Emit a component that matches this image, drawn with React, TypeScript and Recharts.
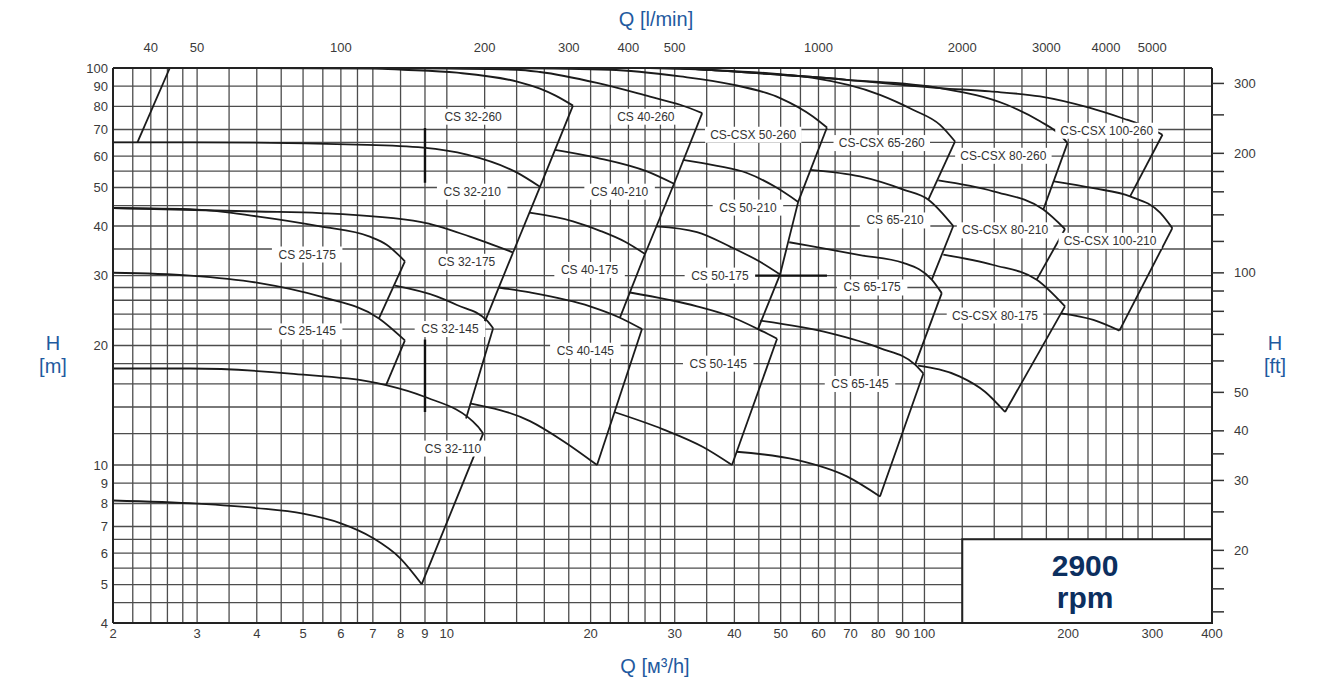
import React from "react";
import {
  ComposedChart,
  Line,
  Scatter,
  XAxis,
  YAxis,
  CartesianGrid,
  ReferenceArea,
  ReferenceLine,
  ReferenceDot,
} from "recharts";

// axis / grid values
const Q_GRID = [2, 2.2, 2.4, 2.6, 2.8, 3, 3.5, 4, 4.5, 5, 5.5, 6, 6.5, 7, 8, 9, 10, 12, 14, 16, 18, 20, 22, 24, 26, 28, 30, 35, 40, 45, 50, 55, 60, 65, 70, 80, 90, 100, 120, 140, 160, 180, 200, 220, 240, 260, 280, 300, 350, 400];
const Q_LABELS = [2, 3, 4, 5, 6, 7, 8, 9, 10, 20, 30, 40, 50, 60, 70, 80, 90, 100, 200, 300, 400];
const H_GRID = [4, 4.5, 5, 5.5, 6, 6.5, 7, 8, 9, 10, 12, 14, 16, 18, 20, 22, 24, 26, 28, 30, 35, 40, 45, 50, 55, 60, 65, 70, 80, 90, 100];
const H_LABELS = [4, 5, 6, 7, 8, 9, 10, 20, 30, 40, 50, 60, 70, 80, 90, 100];
const LMIN_TICKS = [35, 40, 50, 60, 70, 80, 90, 100, 120, 140, 160, 180, 200, 250, 300, 350, 400, 500, 600, 700, 800, 900, 1000, 1200, 1400, 1600, 1800, 2000, 2500, 3000, 3500, 4000, 5000, 6000];
const LMIN_LABELS = [40, 50, 100, 200, 300, 400, 500, 1000, 2000, 3000, 4000, 5000];
const FT_TICKS = [14, 16, 18, 20, 25, 30, 35, 40, 50, 60, 70, 80, 90, 100, 120, 140, 160, 180, 200, 250, 300];
const FT_LABELS = [20, 30, 40, 50, 100, 200, 300];
const LMIN_PER_M3H = 1000 / 60;

type P = [number, number]; // [Q m3/h, H m]

// column 25 / 32
const EDGE_32_260_L: P[] = [[2.25, 65], [2.63, 100]];
const TOP_32_260: P[] = [[2.63, 100], [7.0, 99.7], [8.1, 99.0], [10.5, 97.3], [14.03, 92.4], [15.67, 88.7], [16.85, 85.3], [18.37, 80.4]];
const EDGE_32_260_R: P[] = [[18.37, 80.4], [15.67, 50.2]];
const CURVE_32_H65: P[] = [[2.0, 65.0], [2.94, 65.0], [6.49, 64.1], [8.92, 63.0], [11.02, 60.5], [14.03, 54.5], [15.67, 50.2]];
const EDGE_32_210_R: P[] = [[15.67, 50.2], [13.76, 34.3]];
const CURVE_32_H44: P[] = [[2.0, 44.4], [4.0, 43.5], [5.43, 43.1], [8.85, 40.9], [11.18, 37.6], [13.76, 34.3]];
const CURVE_25_H44: P[] = [[2.0, 44.4], [3.0, 44.0], [4.0, 42.3], [5.43, 39.9], [6.9, 37.6], [7.48, 35.9], [8.17, 32.6]];
const EDGE_25_175_R: P[] = [[8.17, 32.6], [7.21, 23.4]];
const CURVE_25_H30: P[] = [[2.0, 30.5], [2.9, 30.0], [4.0, 28.8], [5.47, 26.5], [7.21, 23.4], [8.17, 20.6]];
const EDGE_25_145_R: P[] = [[8.17, 20.6], [7.46, 15.9]];
const CURVE_H17: P[] = [[2.0, 17.5], [2.9, 17.5], [4.7, 17.0], [7.46, 15.9], [8.92, 14.9], [11.62, 12.5], [11.91, 12.0]];
const EDGE_32_110_R: P[] = [[11.91, 12.0], [8.86, 5.01]];
const CURVE_32_H8: P[] = [[2.0, 8.14], [3.0, 7.99], [4.0, 7.79], [5.0, 7.54], [5.98, 7.14], [7.0, 6.55], [7.98, 5.83], [8.86, 5.01]];
const CURVE_32_H28: P[] = [[7.79, 28.3], [9.52, 26.6], [10.5, 25.3], [12.14, 23.1], [12.5, 22.1]];
const EDGE_32_175_R: P[] = [[13.76, 34.3], [12.02, 23.0]];
const EDGE_32_145_R: P[] = [[12.5, 22.1], [10.97, 13.1]];

// column 40
const TOP_40_260: P[] = [[7.98, 100], [14.03, 99.0], [15.67, 97.7], [20.63, 91.7], [26.63, 84.7], [30.8, 80.8], [34.25, 77.0]];
const EDGE_40_260_R: P[] = [[34.25, 77.0], [29.9, 51.1]];
const CURVE_40_H60: P[] = [[16.85, 62.2], [20.63, 59.4], [26.25, 54.9], [29.9, 51.1]];
const EDGE_40_210_R: P[] = [[29.9, 51.1], [26.0, 34.0]];
const CURVE_40_H43: P[] = [[14.9, 43.2], [18.37, 41.1], [20.93, 38.9], [23.61, 36.5], [26.0, 34.0]];
const EDGE_40_175_R: P[] = [[26.0, 34.0], [23.04, 23.5]];
const CURVE_40_H28: P[] = [[12.85, 28.0], [14.93, 27.2], [19.94, 25.1], [23.04, 23.5], [25.62, 22.0]];
const EDGE_40_145_R: P[] = [[25.62, 22.0], [20.63, 10.0]];
const CURVE_40_H14: P[] = [[11.18, 14.3], [14.93, 12.9], [17.51, 11.5], [20.63, 10.0]];

// column 50
const TOP_50_260: P[] = [[12.92, 100], [21.96, 99.0], [30.8, 95.2], [39.16, 91.1], [49.86, 84.0], [58.4, 75.5], [62.5, 70.8]];
const EDGE_50_260_R: P[] = [[62.5, 70.8], [54.4, 46.0]];
const CURVE_50_H58: P[] = [[31.2, 58.7], [36.8, 56.7], [42.5, 54.4], [48.7, 50.2], [54.4, 46.0]];
const EDGE_50_210_R: P[] = [[54.4, 46.0], [49.86, 30.2]];
const CURVE_50_H40: P[] = [[27.42, 39.9], [33.4, 38.6], [39.16, 35.5], [45.26, 32.5], [49.86, 30.2]];
const EDGE_50_175_R: P[] = [[49.86, 30.2], [44.82, 22.0]];
const CURVE_50_H27: P[] = [[24.18, 27.2], [33.4, 25.1], [39.16, 23.7], [44.82, 22.0], [49.14, 20.8]];
const EDGE_50_145_R: P[] = [[49.14, 20.8], [39.54, 10.0]];
const CURVE_50_H13: P[] = [[22.4, 13.6], [28.36, 12.3], [34.39, 11.1], [39.54, 10.0]];

// column 65
const TOP_65_260: P[] = [[26.6, 100], [35.0, 99.0], [58.4, 94.4], [80.7, 85.6], [94.6, 78.5], [107.8, 71.9], [115.9, 65.3]];
const EDGE_65_260_R: P[] = [[115.9, 65.3], [101.9, 46.6]];
const CURVE_65_H55: P[] = [[57.6, 55.4], [73.3, 53.3], [90.3, 49.4], [101.9, 46.6], [114.9, 40.0]];
const EDGE_65_210_R: P[] = [[114.9, 40.0], [103.6, 29.3]];
const CURVE_65_H36: P[] = [[52.1, 36.4], [73.3, 33.8], [90.3, 32.3], [103.6, 29.3], [108.7, 27.1]];
const EDGE_65_175_R: P[] = [[108.7, 27.1], [95.6, 17.9]];
const CURVE_65_H23: P[] = [[45.3, 23.1], [63.4, 21.5], [80.7, 19.7], [95.6, 17.9], [99.5, 17.0]];
const EDGE_65_145_R: P[] = [[99.5, 17.0], [80.7, 8.33]];
const CURVE_65_H11: P[] = [[40.4, 10.8], [54.0, 10.3], [68.8, 9.36], [80.7, 8.33]];

// column 80
const TOP_80_260: P[] = [[30.8, 99.9], [68.8, 93.4], [107.8, 89.0], [148.7, 80.8], [174.6, 73.4], [192.2, 67.9], [199.3, 64.7]];
const EDGE_80_260_R: P[] = [[199.3, 64.7], [177.4, 44.0]];
const CURVE_80_H52: P[] = [[106.9, 52.1], [139.4, 48.9], [177.4, 44.0], [196.9, 39.3]];
const EDGE_80_210_R: P[] = [[196.9, 39.3], [171.8, 29.3]];
const CURVE_80_H34: P[] = [[109.5, 33.9], [139.4, 31.9], [171.8, 29.3], [196.9, 25.1]];
const EDGE_80_175_R: P[] = [[196.9, 25.1], [147.5, 13.6]];
const CURVE_80_H18: P[] = [[97.0, 17.8], [118.7, 16.7], [133.9, 15.3], [147.5, 13.6]];

// column 100
const TOP_100_260: P[] = [[30.8, 99.9], [68.8, 93.4], [107.8, 89.0], [137.2, 87.3], [174.6, 84.8], [222.2, 79.3], [265.2, 74.1], [292, 71.2], [315, 67.9]];
const EDGE_100_260_R: P[] = [[315, 67.9], [269.5, 47.5]];
const CURVE_100_H52: P[] = [[186.7, 51.8], [225.8, 49.8], [269.5, 47.5], [311.4, 43.2], [330.4, 39.5]];
const EDGE_100_210_R: P[] = [[330.4, 39.5], [256, 21.8]];
const CURVE_100_H24: P[] = [[193.1, 24.1], [225.8, 23.2], [256, 21.8]];

const CURVES: P[][] = [
  EDGE_32_260_L, TOP_32_260, EDGE_32_260_R, CURVE_32_H65, EDGE_32_210_R, CURVE_32_H44, CURVE_25_H44,
  EDGE_25_175_R, CURVE_25_H30, EDGE_25_145_R, CURVE_H17, EDGE_32_110_R, CURVE_32_H8, CURVE_32_H28,
  EDGE_32_175_R, EDGE_32_145_R,
  TOP_40_260, EDGE_40_260_R, CURVE_40_H60, EDGE_40_210_R, CURVE_40_H43, EDGE_40_175_R, CURVE_40_H28,
  EDGE_40_145_R, CURVE_40_H14,
  TOP_50_260, EDGE_50_260_R, CURVE_50_H58, EDGE_50_210_R, CURVE_50_H40, EDGE_50_175_R, CURVE_50_H27,
  EDGE_50_145_R, CURVE_50_H13,
  TOP_65_260, EDGE_65_260_R, CURVE_65_H55, EDGE_65_210_R, CURVE_65_H36, EDGE_65_175_R, CURVE_65_H23,
  EDGE_65_145_R, CURVE_65_H11,
  TOP_80_260, EDGE_80_260_R, CURVE_80_H52, EDGE_80_210_R, CURVE_80_H34, EDGE_80_175_R, CURVE_80_H18,
  TOP_100_260, EDGE_100_260_R, CURVE_100_H52, EDGE_100_210_R, CURVE_100_H24,
];

const LABELS = [
  { text: "CS 32-260", q: 11.35, h: 75.4 },
  { text: "CS 32-210", q: 11.3, h: 48.8 },
  { text: "CS 25-175", q: 5.1, h: 33.9 },
  { text: "CS 32-175", q: 11.0, h: 32.5 },
  { text: "CS 25-145", q: 5.1, h: 21.7 },
  { text: "CS 32-145", q: 10.15, h: 22.0 },
  { text: "CS 32-110", q: 10.3, h: 11.0 },
  { text: "CS 40-260", q: 26.1, h: 75.4 },
  { text: "CS 40-210", q: 23.0, h: 48.8 },
  { text: "CS 40-175", q: 19.9, h: 31.0 },
  { text: "CS 40-145", q: 19.5, h: 19.4 },
  { text: "CS-CSX 50-260", q: 43.8, h: 67.9 },
  { text: "CS 50-210", q: 42.7, h: 44.5 },
  { text: "CS 50-175", q: 37.3, h: 30.0 },
  { text: "CS 50-145", q: 37.0, h: 18.0 },
  { text: "CS-CSX 65-260", q: 81.4, h: 64.7 },
  { text: "CS 65-210", q: 86.8, h: 41.3 },
  { text: "CS 65-175", q: 77.7, h: 28.0 },
  { text: "CS 65-145", q: 73.3, h: 16.0 },
  { text: "CS-CSX 80-260", q: 146.3, h: 60.1 },
  { text: "CS-CSX 80-210", q: 147.5, h: 39.0 },
  { text: "CS-CSX 80-175", q: 140.5, h: 23.8 },
  { text: "CS-CSX 100-260", q: 240.8, h: 69.5 },
  { text: "CS-CSX 100-210", q: 244.7, h: 36.7 },
];

// emphasised grid fragments seen in the sheet
const BOLD_SEGMENTS: P[][] = [
  [[9, 70.6], [9, 51.4]],
  [[9, 20.7], [9, 13.6]],
  [[43.8, 30], [62.5, 30]],
];

const FONT = "'Liberation Sans', Arial, sans-serif";
const TICK = { fill: "#3a3a3a", fontSize: 13, fontFamily: FONT };
const BLUE = "#1f5aa0";

const toPts = (c: P[]) => c.map(([q, h]) => ({ q, h }));

const LabelBox = (props: any) => {
  const { cx, cy, payload } = props;
  const w = payload.text.length * 6.5 + 12;
  return (
    <g>
      <rect x={cx - w / 2} y={cy - 8} width={w} height={16} fill="#fff" />
      <text x={cx} y={cy + 4} textAnchor="middle" fontSize={12} fill="#333" fontFamily={FONT}>
        {payload.text}
      </text>
    </g>
  );
};

const topLabelShape = (v: number) => (p: any) => (
  <text x={p.cx} y={p.cy - 16} textAnchor="middle" fill={TICK.fill} fontSize={TICK.fontSize} fontFamily={FONT}>
    {v}
  </text>
);

const RpmLabel = (props: any) => {
  const { x, y, width, height } = props.viewBox;
  const cx = x + width / 2;
  const cy = y + height / 2;
  return (
    <g fontFamily={FONT} fontWeight="bold" fontSize={30} fill="#0c2f5f" textAnchor="middle">
      <text x={cx - 2} y={cy - 5}>2900</text>
      <text x={cx - 2} y={cy + 27}>rpm</text>
    </g>
  );
};

const titleStyle: React.CSSProperties = {
  position: "absolute",
  color: BLUE,
  fontSize: 20,
  fontFamily: FONT,
  textAlign: "center",
  lineHeight: "23px",
};

export default function App() {
  return (
    <div style={{ position: "absolute", left: 0, top: 0, width: 1342, height: 690, background: "#fff" }}>
      <ComposedChart width={1342} height={690} margin={{ top: 38, right: 70, bottom: 37, left: 53 }}>
        <CartesianGrid xAxisId="q" yAxisId="m" stroke="#4d4d4d" strokeWidth={1.3} />
        <XAxis
          xAxisId="q"
          dataKey="q"
          type="number"
          scale="log"
          domain={[2, 400]}
          allowDataOverflow
          ticks={Q_GRID}
          interval={0}
          height={30}
          tickLine={false}
          tickSize={0}
          tickMargin={6}
          tick={TICK}
          tickFormatter={(v: number) => (Q_LABELS.includes(v) ? String(v) : "")}
          axisLine={{ stroke: "#222", strokeWidth: 2 }}
        />
        <XAxis
          xAxisId="lmin"
          orientation="top"
          type="number"
          scale="log"
          domain={[2 * LMIN_PER_M3H, 400 * LMIN_PER_M3H]}
          allowDataOverflow
          ticks={LMIN_TICKS}
          interval={0}
          height={30}
          tickSize={11}
          tick={false}
          tickLine={{ stroke: "#333", strokeWidth: 1.5 }}
          axisLine={{ stroke: "#222", strokeWidth: 2 }}
        />
        <YAxis
          yAxisId="m"
          dataKey="h"
          type="number"
          scale="log"
          domain={[4, 100]}
          allowDataOverflow
          ticks={H_GRID}
          interval={0}
          width={60}
          tickLine={false}
          tickSize={0}
          tickMargin={5}
          tick={TICK}
          tickFormatter={(v: number) => (H_LABELS.includes(v) ? String(v) : "")}
          axisLine={{ stroke: "#222", strokeWidth: 2 }}
        />
        <YAxis
          yAxisId="ft"
          orientation="right"
          type="number"
          scale="log"
          domain={[4 * 3.28084, 100 * 3.28084]}
          allowDataOverflow
          ticks={FT_TICKS}
          interval={0}
          width={60}
          tickSize={12}
          tickMargin={10}
          tick={TICK}
          tickLine={{ stroke: "#333", strokeWidth: 1.5 }}
          tickFormatter={(v: number) => (FT_LABELS.includes(v) ? String(v) : "")}
          axisLine={{ stroke: "#222", strokeWidth: 2 }}
        />

        {BOLD_SEGMENTS.map((s, i) => (
          <ReferenceLine
            key={"b" + i}
            xAxisId="q"
            yAxisId="m"
            segment={[{ x: s[0][0], y: s[0][1] }, { x: s[1][0], y: s[1][1] }]}
            stroke="#111"
            strokeWidth={2.4}
          />
        ))}

        {CURVES.map((c, i) => (
          <Line
            key={i}
            data={toPts(c)}
            dataKey="h"
            xAxisId="q"
            yAxisId="m"
            type="monotone"
            stroke="#1b1b1b"
            strokeWidth={1.8}
            dot={false}
            activeDot={false}
            isAnimationActive={false}
          />
        ))}

        <ReferenceArea
          xAxisId="q"
          yAxisId="m"
          x1={120}
          x2={400}
          y1={4}
          y2={6.5}
          fill="#fff"
          fillOpacity={1}
          stroke="#222"
          strokeWidth={2}
          label={RpmLabel}
        />

        <Scatter
          data={LABELS}
          dataKey="h"
          xAxisId="q"
          yAxisId="m"
          shape={LabelBox}
          isAnimationActive={false}
        />

        {LMIN_LABELS.map((v) => (
          <ReferenceDot
            key={"l" + v}
            xAxisId="q"
            yAxisId="m"
            x={v / LMIN_PER_M3H}
            y={100}
            r={1}
            ifOverflow="visible"
            shape={topLabelShape(v)}
          />
        ))}
      </ComposedChart>

      <div style={{ ...titleStyle, left: 556, top: 8, width: 200 }}>Q [l/min]</div>
      <div style={{ ...titleStyle, left: 555, top: 655, width: 200 }}>Q [м³/h]</div>
      <div style={{ ...titleStyle, left: 23, top: 332, width: 60 }}>H<br />[m]</div>
      <div style={{ ...titleStyle, left: 1245, top: 332, width: 60 }}>H<br />[ft]</div>
    </div>
  );
}
